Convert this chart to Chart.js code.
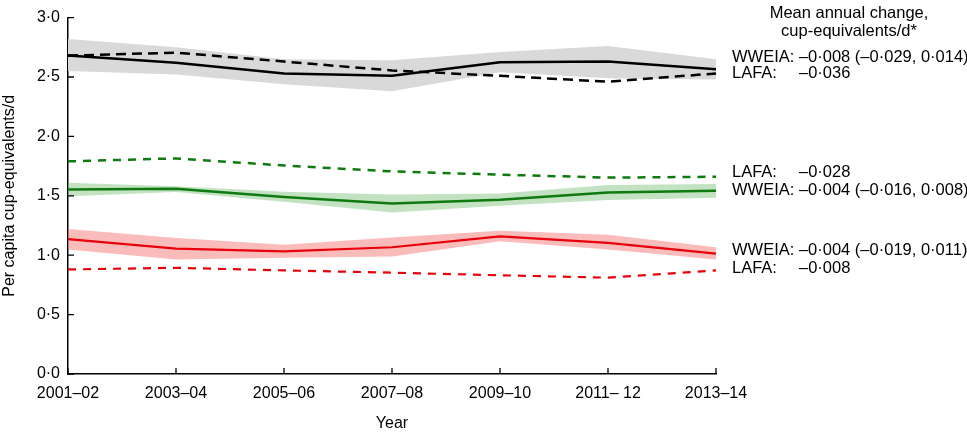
<!DOCTYPE html>
<html>
<head>
<meta charset="utf-8">
<script src="https://cdn.jsdelivr.net/npm/chart.js@4.4.1/dist/chart.umd.min.js"></script>
<style>
  html, body { margin: 0; padding: 0; background: #fff; }
  #wrap { position: relative; width: 967px; height: 433px; }
</style>
</head>
<body>
<div id="wrap"><canvas id="c" width="967" height="433"></canvas></div>
<script>
// ---- Data ----
const years = ['2001–02', '2003–04', '2005–06', '2007–08', '2009–10', '2011– 12', '2013–14'];
const yTickValues = [0, 0.5, 1, 1.5, 2, 2.5, 3];
const yTickLabels = ['0·0', '0·5', '1·0', '1·5', '2·0', '2·5', '3·0'];

const blackWweia = [2.68, 2.62, 2.53, 2.51, 2.625, 2.63, 2.565];
const blackWweiaUpper = [2.82, 2.75, 2.65, 2.64, 2.71, 2.76, 2.65];
const blackWweiaLower = [2.55, 2.52, 2.44, 2.38, 2.54, 2.49, 2.48];
const blackLafa = [2.68, 2.705, 2.63, 2.555, 2.51, 2.46, 2.53];

const greenWweia = [1.553, 1.56, 1.49, 1.436, 1.467, 1.528, 1.542];
const greenWweiaUpper = [1.61, 1.58, 1.535, 1.51, 1.52, 1.59, 1.6];
const greenWweiaLower = [1.497, 1.533, 1.45, 1.36, 1.417, 1.464, 1.483];
const greenLafa = [1.79, 1.815, 1.755, 1.705, 1.678, 1.653, 1.66];

const redWweia = [1.136, 1.055, 1.033, 1.067, 1.158, 1.103, 1.014];
const redWweiaUpper = [1.22, 1.144, 1.089, 1.15, 1.206, 1.172, 1.067];
const redWweiaLower = [1.047, 0.964, 0.978, 0.99, 1.117, 1.047, 0.964];
const redLafa = [0.88, 0.894, 0.872, 0.853, 0.831, 0.811, 0.872];

const annotationHeader = ['Mean annual change,', 'cup-equivalents/d*'];
const annotations = [
  { label: 'WWEIA:', value: '–0·008 (–0·029, 0·014)', row: 57 },
  { label: 'LAFA:', value: '–0·036', row: 73 },
  { label: 'LAFA:', value: '–0·028', row: 172 },
  { label: 'WWEIA:', value: '–0·004 (–0·016, 0·008)', row: 190 },
  { label: 'WWEIA:', value: '–0·004 (–0·019, 0·011)', row: 250 },
  { label: 'LAFA:', value: '–0·008', row: 268 }
];

const FONT = '"Liberation Sans", Arial, Helvetica, sans-serif';

function band(upper, lower, color) {
  return [
    { data: upper, borderWidth: 0, pointRadius: 0, fill: '+1', backgroundColor: color, borderColor: 'rgba(0,0,0,0)', tension: 0, order: 10 },
    { data: lower, borderWidth: 0, pointRadius: 0, fill: false, borderColor: 'rgba(0,0,0,0)', tension: 0, order: 10 }
  ];
}
function line(data, color, width, dash) {
  return { data: data, borderColor: color, borderWidth: width, borderDash: dash || [], pointRadius: 0, fill: false, tension: 0, order: 1, borderCapStyle: 'butt' };
}

const datasets = [
  ...band(blackWweiaUpper, blackWweiaLower, 'rgb(217,217,217)'),
  ...band(greenWweiaUpper, greenWweiaLower, 'rgba(120,190,120,0.45)'),
  ...band(redWweiaUpper, redWweiaLower, 'rgba(245,120,120,0.5)'),
  line(blackLafa, '#000000', 2.5, [10, 6]),
  line(blackWweia, '#000000', 2.5),
  line(greenLafa, '#0f7a0f', 2.5, [8, 7]),
  line(greenWweia, '#0f7a0f', 2.5),
  line(redLafa, '#e8000b', 2.2, [8, 7]),
  line(redWweia, '#e8000b', 2.2)
];

const tickPlugin = {
  id: 'inwardTicks',
  afterDatasetsDraw(chart) {
    const ctx = chart.ctx;
    const xs = chart.scales.x, ys = chart.scales.y;
    const ca = chart.chartArea;
    ctx.save();
    ctx.strokeStyle = '#000';
    ctx.lineWidth = 1.3;
    ctx.beginPath();
    years.forEach((_, i) => {
      const px = xs.getPixelForValue(i);
      ctx.moveTo(px, ca.bottom);
      ctx.lineTo(px, ca.bottom - 6);
    });
    yTickValues.forEach(v => {
      const py = ys.getPixelForValue(v);
      ctx.moveTo(ca.left, py);
      ctx.lineTo(ca.left + 6, py);
    });
    ctx.stroke();
    ctx.restore();
  },
  afterDraw(chart) {
    const ctx = chart.ctx;
    const ca = chart.chartArea;
    const x0 = ca.right + 16;
    ctx.save();
    ctx.fillStyle = '#000';
    ctx.font = '16.5px ' + FONT;
    ctx.textBaseline = 'middle';
    ctx.textAlign = 'center';
    ctx.fillText(annotationHeader[0], x0 + 117, 13);
    ctx.fillText(annotationHeader[1], x0 + 117, 31);
    ctx.textAlign = 'left';
    annotations.forEach(a => {
      if (a.label === 'WWEIA:') {
        ctx.fillText(a.label + ' ' + a.value, x0, a.row);
      } else {
        ctx.fillText(a.label, x0, a.row);
        ctx.fillText(a.value, x0 + 67, a.row);
      }
    });
    ctx.restore();
  }
};

new Chart(document.getElementById('c'), {
  type: 'line',
  data: { labels: years, datasets: datasets },
  options: {
    responsive: false,
    animation: false,
    devicePixelRatio: 1,
    layout: { padding: { left: 0, right: 251, top: 14, bottom: 0 } },
    plugins: { legend: { display: false }, tooltip: { enabled: false } },
    elements: { line: { borderJoinStyle: 'round' } },
    scales: {
      x: {
        type: 'category',
        offset: false,
        grid: { display: false, drawTicks: false },
        border: { display: true, color: '#000', width: 1.5 },
        ticks: { color: '#000', font: { size: 16, family: FONT }, padding: 10, maxRotation: 0, autoSkip: false },
        title: { display: true, text: 'Year', color: '#000', font: { size: 16, family: FONT }, padding: { top: 0, bottom: 0 } },
        afterFit(scale) { scale.height = 59; }
      },
      y: {
        min: 0, max: 3,
        grid: { display: false, drawTicks: false },
        border: { display: true, color: '#000', width: 1.5 },
        afterBuildTicks(scale) { scale.ticks = yTickValues.map(v => ({ value: v })); },
        ticks: {
          color: '#000', font: { size: 16, family: FONT }, padding: 8,
          callback: (v) => { const i = yTickValues.indexOf(v); return i >= 0 ? yTickLabels[i] : ''; }
        },
        title: { display: true, text: 'Per capita cup-equivalents/d', color: '#000', font: { size: 16, family: FONT }, padding: { top: 0, bottom: 0 } },
        afterFit(scale) { scale.width = 68; }
      }
    }
  },
  plugins: [tickPlugin]
});
</script>
</body>
</html>
